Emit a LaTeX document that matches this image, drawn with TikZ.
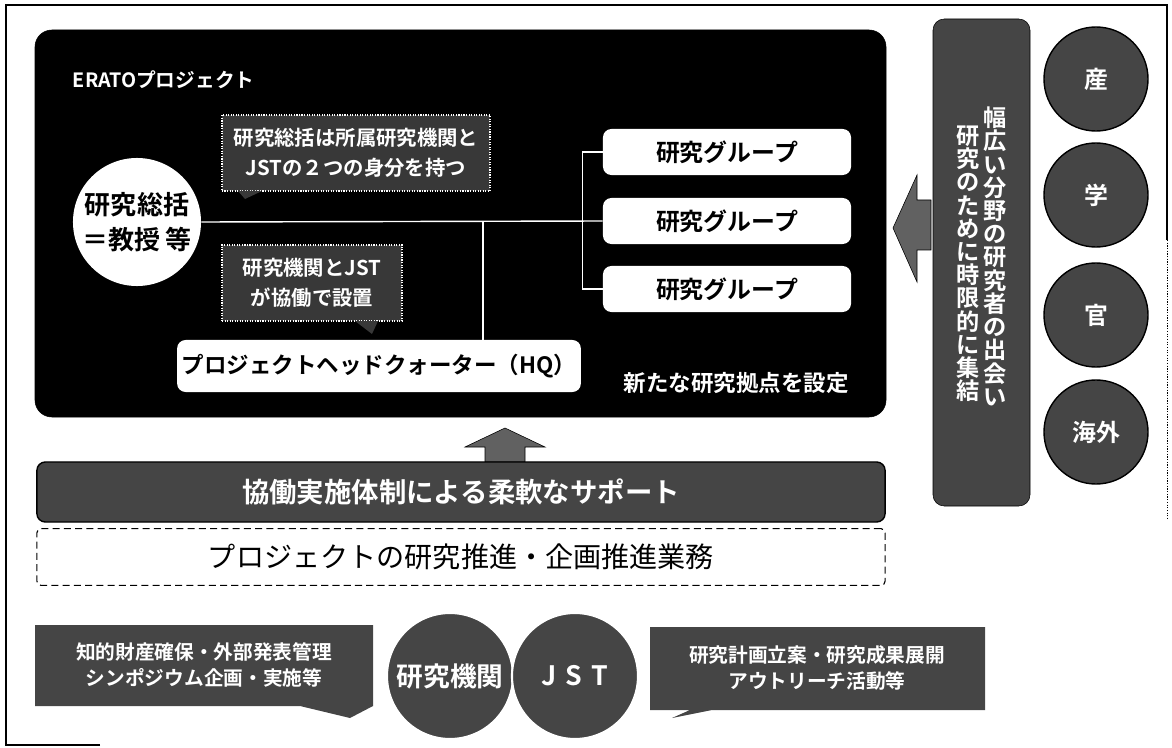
\documentclass[tikz,border=0pt]{standalone}
\usepackage{fontspec}
\setmainfont{Noto Sans CJK JP}[BoldFont={Noto Sans CJK JP Bold}]
\usetikzlibrary{positioning}

\definecolor{boxgray}{gray}{0.27}
\definecolor{notegray}{gray}{0.22}
\definecolor{arrowgray}{gray}{0.38}

\tikzstyle{frame} = [draw, line width=0.9pt]
\tikzstyle{wtext} = [text=white, font=\bfseries\fontsize{16}{19}\selectfont]
\tikzstyle{wline} = [draw=white, line width=1pt]
\tikzstyle{note} = [fill=notegray, draw=white, densely dotted, line width=0.8pt, text=white, align=center, font=\bfseries\fontsize{14.5}{21}\selectfont]
\tikzstyle{grpbox} = [fill=white, rounded corners=6pt, minimum width=6.2cm, minimum height=1.15cm, font=\bfseries\fontsize{17}{20}\selectfont]
\tikzstyle{sector} = [circle, fill=boxgray, draw=black, line width=1pt, minimum size=2.6cm, inner sep=0pt, text=white, font=\bfseries\fontsize{17}{20}\selectfont]
\tikzstyle{partner} = [circle, fill=boxgray, draw=white, line width=1.5pt, minimum size=3.15cm, inner sep=0pt, text=white, font=\bfseries\fontsize{19}{22}\selectfont]
\tikzstyle{vcol} = [text=white, align=center, inner sep=0pt, font=\bfseries\fontsize{16.5}{16.5}\selectfont]
\tikzstyle{dutybox} = [fill=boxgray, text=white, align=center, font=\bfseries\fontsize{14}{19}\selectfont]

\begin{document}
\begin{tikzpicture}[x=0.025cm, y=-0.025cm]
	\useasboundingbox (0,0) rectangle (1172,748);
	
	\draw[frame] (100,745) -- (6,745) -- (6,5) -- (1167,5) -- (1167,240); % frame
	\draw[frame, densely dotted, line width=0.5pt] (1167,240) -- (1167,520);
	
	% ERATO project
	\draw[fill=black, rounded corners=12pt] (35,30) rectangle (886,417); % panel
	\node[wtext, anchor=west, font=\bfseries\fontsize{14}{17}\selectfont] (erato) at (68,80) {ERATOプロジェクト};
	
	\node[circle, fill=white, minimum size=3.2cm, inner sep=0pt, align=center, font=\bfseries\fontsize{18.5}{25}\selectfont] (lead) at (137,222) {研究総括\\＝教授 等};
	
	\node[note, minimum width=6.7cm, minimum height=1.9cm] (note1) at (356,153) {研究総括は所属研究機関と\\JSTの２つの身分を持つ};
	\fill[notegray] (238,191) -- (245,199) -- (262,191) -- cycle; % tail
	
	\node[note, minimum width=4.5cm, minimum height=1.9cm] (note2) at (312,283) {研究機関とJST\\が協働で設置};
	\fill[notegray] (355,321) -- (372,334) -- (378,321) -- cycle; % tail
	
	\node[grpbox] (grp1) at (727,152) {研究グループ};
	\node[grpbox] (grp2) at (727,221) {研究グループ};
	\node[grpbox] (grp3) at (727,289) {研究グループ};
	
	\node[fill=white, rounded corners=6pt, minimum width=10.05cm, minimum height=1.3cm, font=\bfseries\fontsize{16}{19}\selectfont] (hq) at (379,366) {プロジェクトヘッドクォーター（HQ）};
	\node[wtext] (newbase) at (736,383) {新たな研究拠点を設定};
	
	\draw[wline] (lead.east) -- (grp2.west);
	\draw[wline] (grp1.west) -- ++(-20,0) |- (grp3.west);
	\coordinate (jn) at (483,222);
	\draw[wline] (jn) -- (jn |- hq.north);
	
	% gathering
	\draw[fill=arrowgray] (893,228) -- (917,175) -- (917,200) -- (931,200) -- (931,250) -- (917,250) -- (917,282) -- cycle; % left arrow
	\draw[fill=boxgray, rounded corners=8pt] (933,19) rectangle (1030,506);
	\node[vcol, anchor=south] (col1) at (995,406) {幅\\広\\い\\分\\野\\の\\研\\究\\者\\の\\出\\会\\い};
	\node[vcol, anchor=south] (col2) at (968,402) {研\\究\\の\\た\\め\\に\\時\\限\\的\\に\\集\\結};
	
	\foreach \y/\t/\n in {79/産/san, 195/学/gaku, 315/官/kan, 432/海外/abroad}
		\node[sector] (\n) at (1096,\y) {\t};
	
	% support
	\draw[fill=arrowgray] (505,428) -- (545,447) -- (525,447) -- (525,462) -- (485,462) -- (485,447) -- (465,447) -- cycle; % up arrow
	\node[fill=boxgray, draw=black, line width=1pt, rounded corners=6pt, minimum width=21.2cm, minimum height=1.5cm, text=white, font=\bfseries\fontsize{19.5}{22}\selectfont] (support) at (461,492) {協働実施体制による柔軟なサポート};
	\node[draw, dashed, dash pattern=on 5pt off 3pt, line width=0.8pt, rounded corners=3pt, minimum width=21.2cm, minimum height=1.42cm, font=\fontsize{20}{23}\selectfont] (tasks) at (461,557) {プロジェクトの研究推進・企画推進業務};
	
	% partners
	\fill[boxgray] (35,625) -- (373,625) -- (373,706) -- (350,718) -- (300,706) -- (35,706) -- cycle;
	\node[dutybox] (duty1) at (204,665) {知的財産確保・外部発表管理\\シンポジウム企画・実施等};
	\fill[boxgray] (650,627) -- (985,627) -- (985,710) -- (712,710) -- (672,718) -- (690,710) -- (650,710) -- cycle;
	\node[dutybox] (duty2) at (817,668) {研究計画立案・研究成果展開\\アウトリーチ活動等};
	
	\node[partner] (inst) at (450,676) {研究機関};
	\node[partner] (jst) at (575,676) {J\,\,S\,\,T};
	
\end{tikzpicture}
\end{document}
